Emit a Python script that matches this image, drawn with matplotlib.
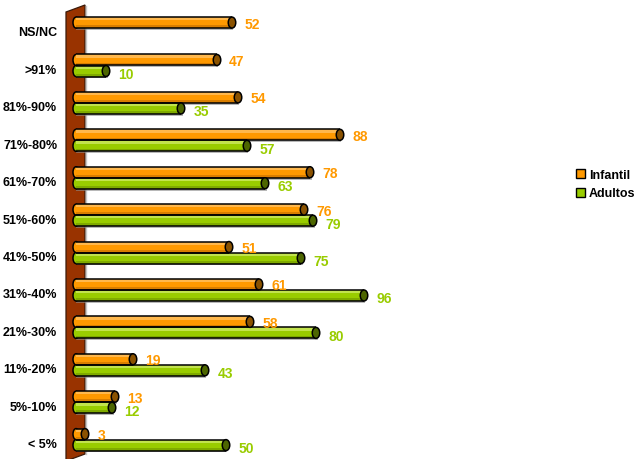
import matplotlib
matplotlib.use("Agg")
import matplotlib.pyplot as plt
from matplotlib.patches import Ellipse, Rectangle, Polygon

categories = ["NS/NC", ">91%", "81%-90%", "71%-80%", "61%-70%", "51%-60%",
              "41%-50%", "31%-40%", "21%-30%", "11%-20%", "5%-10%", "< 5%"]
infantil = [52, 47, 54, 88, 78, 76, 51, 61, 58, 19, 13, 3]
adultos = [None, 10, 35, 57, 63, 79, 75, 96, 80, 43, 12, 50]

FONT = ["Liberation Sans", "DejaVu Sans"]
W, H = 637, 460
fig = plt.figure(figsize=(W / 100, H / 100), dpi=100)

# pixel mapping: value v -> x px = 76 + 3 v ; category i -> y px = 32 + 37.41 i
px_per_val = 3.0
x0 = 76.0
ax_left_px = 60.0
ax_right_px = 637.0
py0 = 32.0
py_step = 37.41

ax = fig.add_axes([ax_left_px / W, 0, (ax_right_px - ax_left_px) / W, 1])
ax.set_xlim((ax_left_px - x0) / px_per_val, (ax_right_px - x0) / px_per_val)
ax.set_ylim((H - py0) / py_step, -py0 / py_step)
for s in ax.spines.values():
    s.set_visible(False)
ax.set_xticks([])
ax.set_yticks(range(len(categories)))
ax.set_yticklabels(categories, fontfamily=FONT, fontweight="bold", fontsize=9)
ax.tick_params(axis="y", length=0, pad=2)


def px2d(xp, yp):
    return ((xp - x0) / px_per_val, (yp - py0) / py_step)


wall = Polygon([px2d(66, 13), px2d(85, 6), px2d(85, 455), px2d(66, 462)],
               closed=True, facecolor="#993300", edgecolor="#3a1a0a",
               linewidth=0.9, zorder=1, clip_on=False)
ax.add_patch(wall)
ax.plot([px2d(86, 0)[0]] * 2, [px2d(0, 7)[1], px2d(0, 455)[1]],
        color="#c8c8c8", linewidth=1.0, zorder=1)

bar_h = 11.0 / py_step
off_inf = -0.225
off_adu = 0.07
cap_w = 7.5 / px_per_val
start_w = 6.0 / px_per_val
LW = 1.1

styles = {
    "inf": dict(body="#FF9900", light="#FFB84D", dark="#D97E00", cap="#8A5200",
                text="#FF9900"),
    "adu": dict(body="#99CC00", light="#C2E34D", dark="#7FAA00", cap="#4D6600",
                text="#99CC00"),
}


def draw_bar(v, yc, st, text_dy):
    top = yc - bar_h / 2
    bot = yc + bar_h / 2
    sh = 1.8 / py_step
    ax.add_patch(Rectangle((0, top + sh), v + 0.5, bar_h, facecolor="#8a8a8a",
                           edgecolor="none", zorder=2, alpha=0.6))
    ax.add_patch(Ellipse((0, yc), start_w, bar_h, facecolor=st["body"],
                         edgecolor="black", linewidth=LW, zorder=3))
    ax.add_patch(Rectangle((0, top), v, bar_h, facecolor=st["body"],
                           edgecolor="none", zorder=4))
    ax.add_patch(Rectangle((0, top), v, bar_h * 0.3, facecolor=st["light"],
                           edgecolor="none", zorder=4))
    ax.add_patch(Rectangle((0, bot - bar_h * 0.25), v, bar_h * 0.25,
                           facecolor=st["dark"], edgecolor="none", zorder=4))
    ax.plot([0, v], [top, top], color="black", linewidth=LW, zorder=5,
            solid_capstyle="butt")
    ax.plot([0, v], [bot, bot], color="black", linewidth=LW, zorder=5,
            solid_capstyle="butt")
    ax.add_patch(Ellipse((v, yc), cap_w, bar_h, facecolor=st["cap"],
                         edgecolor="black", linewidth=LW, zorder=6))
    ax.text(v + (3.75 + 8.5) / px_per_val, yc + text_dy / py_step, str(v),
            color=st["text"], fontfamily=FONT, fontweight="bold",
            fontsize=10, ha="left", va="center", zorder=7)


for i, (a, b) in enumerate(zip(infantil, adultos)):
    if a is not None:
        draw_bar(a, i + off_inf, styles["inf"], 1.0)
    if b is not None:
        draw_bar(b, i + off_adu, styles["adu"], 3.0)

handles = [
    Rectangle((0, 0), 1, 1, facecolor="#FF9900", edgecolor="black", linewidth=1.0),
    Rectangle((0, 0), 1, 1, facecolor="#99CC00", edgecolor="black", linewidth=1.0),
]
fig.legend(handles, ["Infantil", "Adultos"], loc="center left",
           bbox_to_anchor=(576 / W, 1 - 185 / H), frameon=False,
           prop=dict(family=FONT, weight="bold", size=9),
           handlelength=0.75, handleheight=0.75, handletextpad=0.3,
           labelspacing=0.55, borderpad=0, borderaxespad=0)

fig.savefig("out.png", dpi=100)
